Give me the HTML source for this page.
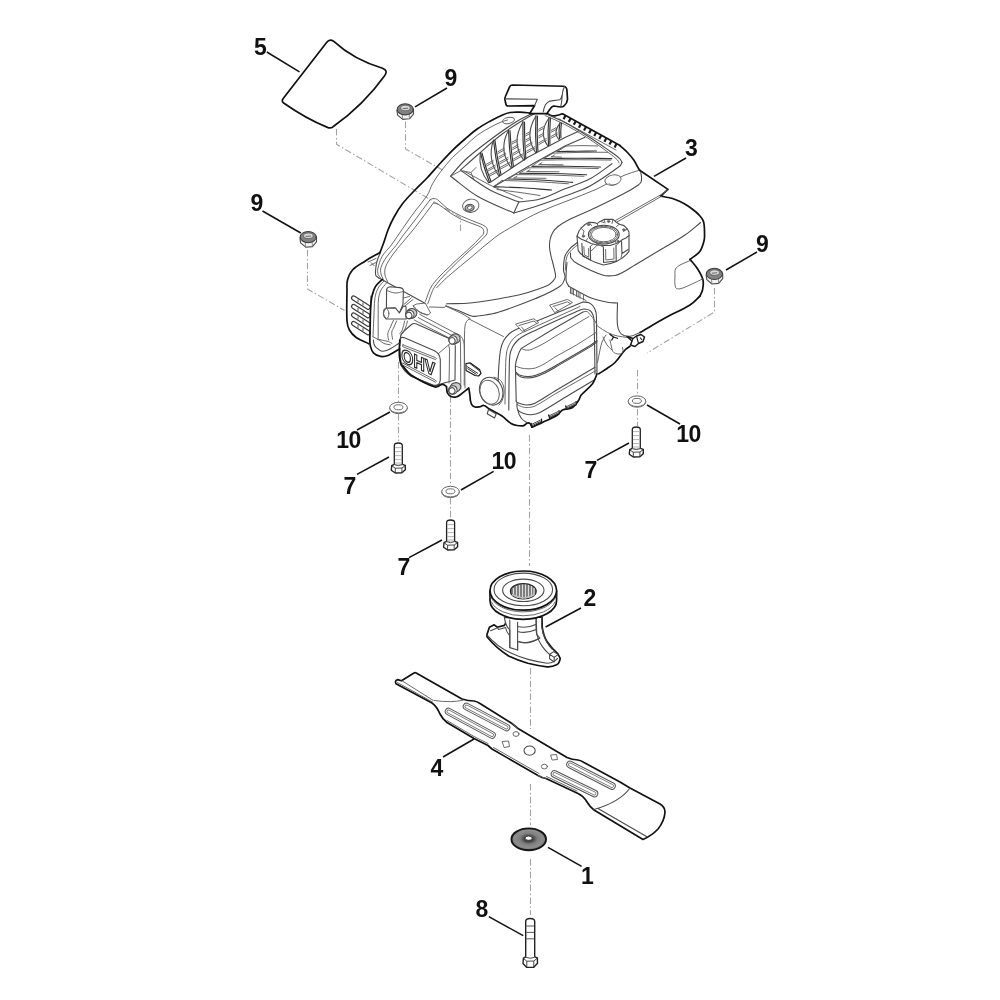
<!DOCTYPE html>
<html lang="en">
<head>
<meta charset="utf-8">
<title>Engine assembly - exploded parts diagram</title>
<style>
html,body{margin:0;padding:0;background:#fff;}
body{width:1000px;height:1000px;overflow:hidden;}
svg{display:block;filter:grayscale(1);}
.k{fill:none;stroke:#111;stroke-width:1.7;stroke-linecap:round;stroke-linejoin:round;}
.kf{fill:#fff;stroke:#111;stroke-width:1.7;stroke-linecap:round;stroke-linejoin:round;}
.m{fill:none;stroke:#4a4a4a;stroke-width:1.1;stroke-linecap:round;stroke-linejoin:round;}
.mf{fill:#fff;stroke:#4a4a4a;stroke-width:1.1;stroke-linecap:round;stroke-linejoin:round;}
.t{fill:none;stroke:#626262;stroke-width:0.95;stroke-linecap:round;stroke-linejoin:round;}
.tf{fill:#fff;stroke:#626262;stroke-width:0.95;stroke-linecap:round;stroke-linejoin:round;}
.fd{fill:none;stroke:#333;stroke-width:1.15;stroke-linecap:round;stroke-linejoin:round;}
.d{fill:none;stroke:#a2a2a2;stroke-width:1.1;stroke-dasharray:6.5 2.4 1.5 2.4;}
.l{fill:none;stroke:#111;stroke-width:1.5;stroke-linecap:butt;}
.n{font-family:"Liberation Sans",Arial,Helvetica,sans-serif;font-weight:700;font-size:23px;fill:#111;}
</style>
</head>
<body>
<svg width="1000" height="1000" viewBox="0 0 1000 1000">
<rect width="1000" height="1000" fill="#fff"/>

<!-- ===== dash-dot assembly lines ===== -->
<g id="axes" class="d">
<path d="M336.500 129V144.300L460.500 217.500V231"/>
<path d="M405.500 121.500V149L442.500 170"/>
<path d="M307.500 250V289L344.500 310.500"/>
<path d="M714.500 288V312L647 353"/>
<path d="M398.500 362V402M398.500 414V441"/>
<path d="M450.500 396V486M450.500 498V519"/>
<path d="M637.500 370V394M637.500 409V426"/>
<path d="M529.500 435V566M530.500 668V729M530.500 784V825M530.500 859V915"/>
</g>

<!-- ENGINE-START -->
<g id="engine">
<path class="k" d="M380 252.5C381.2 249.2 382.6 245.9 383.8 242.5C385.2 238.4 386.4 234.1 388 230C389.7 225.7 391.5 221.5 393.8 217.5C396.4 212.7 399.2 208 402.5 203.8C406.3 198.8 410.7 194.5 415 190C419.1 185.7 423.5 181.8 427.5 177.5C431.8 172.9 435.8 168.1 440 163.5C444.1 159 448.2 154.5 452.5 150.3C456.5 146.4 460.7 142.7 465 139C469.1 135.5 473.1 131.9 477.5 128.8C481.5 125.9 485.7 123.6 490 121.2C494.1 119 498.2 116.9 502.5 115C504.9 113.9 507.4 112.9 510 112.5C513.3 112 516.7 112.1 520 112.2C523.3 112.3 526.7 112.7 530 113"/>
<path class="t" d="M507.5 120C505 120.8 502.4 121.5 500 122.5C496.6 124 493.3 125.7 490 127.5C485.8 129.9 481.4 132.1 477.5 135C473 138.4 469.2 142.5 465 146.2C460.8 150 456.4 153.4 452.5 157.5C448 162.2 443.9 167.3 440 172.5C437.3 176.1 434.7 179.8 432.5 183.8C430.5 187.3 429.7 191.5 427.5 195C423.8 200.8 419.1 205.8 415 211.2C410.7 217 406.6 222.9 402.5 228.8C398.7 234.1 395.3 239.7 391.4 245C388.5 248.9 384.6 252 382.2 256.2C380 260.1 378.8 264.6 377.8 269C377.4 270.8 377.6 272.8 378.2 274.6C378.6 275.8 379.7 276.5 380.5 277.5"/>
<ellipse class="t" cx="508.5" cy="120.5" rx="6" ry="3" transform="rotate(-12 508.5 120.5)"/>
<path class="k" d="M547 113.5C548.7 114.3 550.2 115.4 552 115.8C553.3 116.1 554.7 115.9 556 115.6C558.2 115.2 560.3 114.4 562.5 113.8"/>
<path class="k" d="M562.5 113.8L620 145.6"/>
<path class="k" d="M620 145.6C622.5 147.9 625.2 150 627.5 152.5C629.7 154.9 631.9 157.3 633.8 160C635.7 162.8 637 166.1 638.8 169C639.1 169.6 639.6 170 640 170.5"/>
<path class="k" d="M640 170.5L668 189.4L660.6 196.2"/>
<path class="t" d="M558.8 118.8L616 150"/>
<path d="M565.5 115.6L563.6 119.2" fill="none" stroke="#1a1a1a" stroke-width="2.200"/>
<path d="M570.6 118.4L568.7 122" fill="none" stroke="#1a1a1a" stroke-width="2.200"/>
<path d="M575.7 121.2L573.8 124.8" fill="none" stroke="#1a1a1a" stroke-width="2.200"/>
<path d="M580.8 124.1L578.9 127.7" fill="none" stroke="#1a1a1a" stroke-width="2.200"/>
<path d="M585.9 126.9L584 130.5" fill="none" stroke="#1a1a1a" stroke-width="2.200"/>
<path d="M591 129.7L589.1 133.3" fill="none" stroke="#1a1a1a" stroke-width="2.200"/>
<path d="M596.1 132.5L594.2 136.1" fill="none" stroke="#1a1a1a" stroke-width="2.200"/>
<path d="M601.2 135.3L599.3 138.9" fill="none" stroke="#1a1a1a" stroke-width="2.200"/>
<path d="M606.3 138.2L604.4 141.8" fill="none" stroke="#1a1a1a" stroke-width="2.200"/>
<path d="M611.4 141L609.5 144.6" fill="none" stroke="#1a1a1a" stroke-width="2.200"/>
<path d="M616.5 143.8L614.6 147.4" fill="none" stroke="#1a1a1a" stroke-width="2.200"/>
<path class="t" d="M638.5 170.5C633.7 172.1 628.7 173.3 624 175.4C614.5 179.6 605.5 185.1 596 189.4C586.8 193.5 577.3 196.9 568 200.6C558.7 204.3 549.1 207.6 540 211.8C531.4 215.7 523.2 220.3 515 225C508.2 228.9 501.3 232.7 495 237.4C486.6 243.6 479 250.7 471 257.4C463 264.1 454.8 270.5 447 277.4C443.3 280.6 440.1 284.3 436.6 287.8"/>
<path class="m" d="M640.8 172.6C641.1 174.4 641.6 176.2 641.6 178C641.6 179.3 641.6 180.8 641 182C640.3 183.3 639.2 184.4 638 185.2C633.5 188.3 628.8 191 624 193.6C614.8 198.5 605.4 203.1 596 207.6C586.8 212 577.2 215.6 568 220.2C564.5 222 561.1 224.1 558 226.5C556.1 228 554.3 229.9 553 232C551.5 234.5 550.6 237.2 550 240C549.4 242.6 549.4 245.3 549.6 248C549.8 250.7 550.4 253.4 551 256C551.4 258 552.1 260 552.6 262C553.4 265.3 554.3 268.6 555 272C555.3 273.6 555.9 275.4 555.5 277C555.2 278.5 554.1 279.9 553 281C551.4 282.7 549.7 284.6 547.5 285.5C539.4 289 531 291.7 522.5 294C513.5 296.4 504.2 297.9 495 299.5C486.7 300.9 478.4 302.3 470 303C462.2 303.7 454.4 303.5 446.6 303.8"/>
<path class="m" d="M578 242C575.5 244 572.7 245.7 570.5 248C568.3 250.4 566 252.9 565 256C563.6 260.5 563.5 265.3 563.5 270C563.5 272.5 565.5 275 565 277.5C564.3 280.8 562.7 284.3 560 286.2C552.4 291.6 543.6 295.1 535 298.8C522.7 303.9 510.2 308.4 497.5 312.5C493.5 313.8 489.2 314.4 485 315C480.9 315.6 476.6 316.9 472.5 316.2C468.1 315.6 464.2 312.9 460 311.2C455.4 309.5 450.7 307.8 446 306"/>
<path class="t" d="M579.5 243.5C577 245.5 574.2 247.2 572 249.5C569.9 251.7 567.7 254.1 566.8 257C565.4 261.1 565.8 265.7 565.3 270"/>
<path class="t" d="M430.2 199.6C431.1 199.3 432 198.6 433 198.6C434.5 198.6 436.2 198.7 437.4 199.6C440.9 202 443.5 205.8 447 208.2C451.5 211.3 456.4 213.8 461.4 216.2C467.1 218.9 473.2 220.9 479 223.4C481.2 224.3 483.6 225 485.5 226.5C486.5 227.3 487.2 228.7 487.3 230C487.4 231.7 487.3 233.7 486.2 235C481.7 240.3 476.1 244.6 471 249.4C466.5 253.7 461.8 257.7 457.4 262.2C449.7 270 441.3 277.3 435 286.2C431.3 291.4 430.2 297.9 427.8 303.8"/>
<path class="t" d="M433.4 203C435 203.4 436.8 203.4 438.2 204.2C441.4 206 444 208.6 447 210.6C451.2 213.4 455.3 216.4 459.8 218.6C465.7 221.5 472.1 223.2 478.2 225.8C479.8 226.5 481.4 227.1 482.6 228.3C483.4 229.1 483.7 230.4 483.8 231.5C483.9 232.6 483.7 233.8 483 234.6C478 240.3 472.4 245.4 467 250.6C463.1 254.3 458.8 257.6 455 261.4C447.4 269 439 276 432.6 284.6C429 289.5 427.8 295.8 425.4 301.4"/>
<path class="t" d="M430.2 199.6C425.1 206.4 420.1 213.2 415 220C410.9 225.5 406.6 230.8 402.5 236.2C400.2 239.3 398.3 242.5 396 245.5C393 249.4 389.3 252.9 386.5 257C384.3 260.2 382.2 263.7 381 267.4C380.3 269.5 380.6 271.8 381 274C381.4 276 382.7 277.7 383.5 279.5"/>
<path class="t" d="M433.4 203C427.3 211.2 421.3 219.5 415 227.5C411 232.6 406.6 237.5 402.5 242.5C399.1 246.6 395.5 250.6 392.5 255C389.9 258.8 387.1 262.7 385.5 267C384.6 269.5 384.6 272.4 385 275C385.3 277.3 386.7 279.3 387.5 281.5"/>
<path class="m" d="M378.6 277.8L425.4 303.4"/>
<path class="m" d="M380.2 253C379.1 255.8 377.8 258.4 377 261.2C376.3 263.5 376 265.9 375.8 268.2C375.6 270.6 375.1 273.1 375.8 275.4C376.1 276.6 377.7 277 378.6 277.8"/>
<ellipse class="t" cx="470.8" cy="205.8" rx="8.2" ry="6.6" transform="rotate(-10 470.8 205.8)"/>
<ellipse class="m" cx="469.6" cy="207.8" rx="4.6" ry="3.4" transform="rotate(-10 469.6 207.8)" style="fill:#bbb"/>
<ellipse class="t" cx="469.8" cy="207.6" rx="2.4" ry="1.7" transform="rotate(-10 469.8 207.6)" style="fill:#fff"/>
<ellipse class="tf" cx="613" cy="180" rx="8.2" ry="5" transform="rotate(-12 613 180)"/>
<path class="t" d="M609 183.5C610 184.1 610.9 185.1 612 185.2C613.3 185.4 614.7 184.7 616 184.4"/>
<path class="m" d="M450.6 176.2C455.4 170.8 459.7 164.9 465 160C472.9 152.8 481.5 146.4 490 140C498.1 133.9 506.4 127.9 515 122.5C521.4 118.5 528.3 115.5 535 112"/>
<path class="m" d="M460.6 170C466.2 165 471.8 159.9 477.5 155C485.8 147.8 493.8 140.3 502.5 133.8C510.5 127.8 519.1 122.7 527.5 117.5C530.2 115.8 533.2 114.5 536 113"/>
<path class="m" d="M546 113.8C552.3 116.7 558.9 119.2 565 122.5C573.6 127.1 581.8 132.3 590 137.5C596.8 141.9 603.4 146.6 610 151.2C613.4 153.7 617 155.9 620 158.8C621 159.7 621.3 161.2 622 162.5"/>
<path class="t" d="M545 115.5C551.7 118.5 558.5 121.1 565 124.5C573.6 129.1 581.8 134.2 590 139.5C596.5 143.7 602.8 148.4 609 153C611.9 155.2 614.9 157.4 617.5 160C618.3 160.8 618.5 162 619 163"/>
<path class="m" d="M622 162.5C621.3 163.7 621.1 165.2 620 166C610.3 173.1 600.6 180.2 590 186C582.1 190.3 573.4 192.8 565 196C556.7 199.1 548.4 202.2 540 205C531.3 207.9 522.5 210.3 513.8 213"/>
<path class="m" d="M612 163.8C604.7 168.8 597.8 174.6 590 178.8C582.1 183 573.3 185.4 565 188.8C556.7 192.1 548.7 196.5 540 199C533.1 201 525.8 201 518.8 202"/>
<path class="m" d="M450.6 176.2C459.6 182.9 467.8 190.6 477.5 196.2C489 202.9 501.7 207.4 513.8 213"/>
<path class="m" d="M461 170.6C470.7 177.1 479.8 184.4 490 190C499.1 195 509.2 198 518.8 202"/>
<path class="m" d="M513.8 213L518.8 202"/>
<path class="t" d="M450.6 176.2L461 170.6"/>
<path class="t" d="M463.8 171C474.2 176.5 484.3 182.5 495 187.5C504 191.7 513.3 195 522.5 198.8"/>
<path class="t" d="M461 170.6L471 172.5L476 167.5"/>
<path class="t" d="M471 172.5L474 180"/>
<path class="m" d="M490 182.5L527.5 157.5L565 137.5L578 131.5"/>
<path class="m" d="M494 186.5L535 162.5L565 146L585 137.3"/>
<path class="fd" d="M480.5 152.5C481.8 157.5 482.9 162.6 484.4 167.5C485.9 172.6 487.8 177.5 489.5 182.5"/>
<path class="fd" d="M482 153C483.3 157.8 484.5 162.7 486 167.5C487.5 172.2 489.3 176.7 490.9 181.3"/>
<path class="m" d="M480.3 153.3Q478 169 488.7 182.8"/>
<path class="fd" d="M493.5 140C494.3 145.9 494.9 151.9 495.9 157.8C496.9 163.7 498.3 169.6 499.5 175.5"/>
<path class="fd" d="M495 140.5C495.8 146.2 496.5 152 497.5 157.8C498.5 163.3 499.8 168.8 500.9 174.3"/>
<path class="m" d="M493.3 140.8Q487.1 159.2 498.7 175.8"/>
<path class="fd" d="M508.5 130C508.9 136.2 509.1 142.5 509.6 148.8C510.2 155 511.2 161.2 512 167.5"/>
<path class="fd" d="M510 130.5C510.4 136.6 510.7 142.7 511.2 148.8C511.8 154.6 512.7 160.5 513.4 166.3"/>
<path class="m" d="M508.3 130.8Q498 150.2 511.2 167.8"/>
<path class="fd" d="M523 121.5C523 127.9 522.9 134.3 523.1 140.8C523.4 147.2 524 153.6 524.5 160"/>
<path class="fd" d="M524.5 122C524.6 128.2 524.5 134.5 524.8 140.8C525 146.8 525.5 152.8 525.9 158.8"/>
<path class="m" d="M522.8 122.3Q510.8 142.2 523.7 160.3"/>
<path class="fd" d="M536 115.5C535.9 121.7 535.6 127.8 535.6 134C535.7 140.2 536.2 146.3 536.5 152.5"/>
<path class="fd" d="M537.5 116C537.4 122 537.2 128 537.2 134C537.3 139.8 537.7 145.5 537.9 151.3"/>
<path class="m" d="M535.8 116.3Q524 135.5 535.7 152.8"/>
<path class="fd" d="M549 117.5C548.7 122.2 548.2 126.8 548.1 131.5C548.1 136.2 548.4 140.8 548.5 145.5"/>
<path class="fd" d="M550.5 118C550.2 122.5 549.9 127 549.8 131.5C549.7 135.8 549.9 140 549.9 144.3"/>
<path class="m" d="M548.8 118.3Q538.5 133 547.7 145.8"/>
<path class="fd" d="M560 122.5C559.7 125.2 559.2 128 559.1 130.8C559.1 133.5 559.4 136.2 559.5 139"/>
<path class="fd" d="M561.5 123C561.2 125.6 560.9 128.2 560.8 130.8C560.7 133.1 560.9 135.5 560.9 137.8"/>
<path class="m" d="M559.8 123.3Q552.8 132.2 558.7 139.3"/>
<path class="t" d="M489.5 174.4L497.8 169.8"/>
<path class="t" d="M489.5 176.2L497.8 171.6"/>
<path class="t" d="M487.9 169.3L495.3 165.2"/>
<path class="t" d="M487.9 171.1L495.3 167"/>
<path class="t" d="M486.4 164.2L493.2 160.4"/>
<path class="t" d="M486.4 166L493.2 162.2"/>
<path class="t" d="M500.5 167.3L510.1 162"/>
<path class="t" d="M500.5 169.1L510.1 163.8"/>
<path class="t" d="M499.6 162.1L508 157.5"/>
<path class="t" d="M499.6 163.9L508 159.3"/>
<path class="t" d="M498.8 156.9L505.7 153.1"/>
<path class="t" d="M498.8 158.7L505.7 154.9"/>
<path class="t" d="M497.9 151.7L504.3 148.2"/>
<path class="t" d="M497.9 153.5L504.3 150"/>
<path class="t" d="M513.6 158.9L522.6 154"/>
<path class="t" d="M513.6 160.7L522.6 155.8"/>
<path class="t" d="M513.1 153.4L520.1 149.5"/>
<path class="t" d="M513.1 155.2L520.1 151.3"/>
<path class="t" d="M512.6 147.8L518.1 144.8"/>
<path class="t" d="M512.6 149.6L518.1 146.6"/>
<path class="t" d="M512 142.2L517 139.5"/>
<path class="t" d="M512 144L517 141.3"/>
<path class="t" d="M526.6 151.2L534.8 146.7"/>
<path class="t" d="M526.6 153L534.8 148.5"/>
<path class="t" d="M526.3 145.5L532.2 142.2"/>
<path class="t" d="M526.3 147.3L532.2 144"/>
<path class="t" d="M526.1 139.7L530.5 137.3"/>
<path class="t" d="M526.1 141.5L530.5 139.1"/>
<path class="t" d="M525.9 134L529.8 131.8"/>
<path class="t" d="M525.9 135.8L529.8 133.6"/>
<path class="t" d="M538.8 142.8L546.3 138.6"/>
<path class="t" d="M538.8 144.6L546.3 140.4"/>
<path class="t" d="M538.7 136L543.8 133.2"/>
<path class="t" d="M538.7 137.8L543.8 135"/>
<path class="t" d="M538.6 129.3L543.5 126.6"/>
<path class="t" d="M538.6 131.1L543.5 128.4"/>
<path class="t" d="M551.1 136.4L557.3 133"/>
<path class="t" d="M551.1 138.2L557.3 134.8"/>
<path class="t" d="M551.2 130.4L556 127.7"/>
<path class="t" d="M551.2 132.2L556 129.5"/>
<path class="t" d="M566.3 146C571.5 145.9 576.8 145.6 582 145.6C587.3 145.6 592.5 145.9 597.8 146"/>
<path class="fd" d="M557 151.6C563.7 151.5 570.3 151.3 577 151.2C583.5 151.1 589.9 151.1 596.4 151"/>
<path class="t" d="M553 153.2C562 152.9 571 152.5 580 152.4C589.2 152.2 598.4 152.3 607.6 152.3"/>
<path class="fd" d="M544 158.6C555.3 158.5 566.7 158.2 578 158.2C589.3 158.2 600.5 158.5 611.8 158.6"/>
<path class="t" d="M540.4 160.2C552.3 160 564.1 159.7 576 159.7C587.7 159.7 599.3 160 611 160.1"/>
<path class="fd" d="M532 166.3C543.3 166.3 554.7 166.1 566 166.2C577.5 166.3 589.1 166.7 600.6 167"/>
<path class="t" d="M528.5 167.8C540.3 167.8 552.2 167.7 564 167.8C575.5 167.9 587 168.3 598.5 168.6"/>
<path class="fd" d="M519.4 173.3C530.6 173.4 541.8 173.3 553 173.5C564.2 173.7 575.4 174.3 586.6 174.7"/>
<path class="t" d="M515.2 174.6C526.8 174.7 538.4 174.7 550 175C561.3 175.3 572.7 175.9 584 176.3"/>
<path class="fd" d="M508.2 179C518.8 179.3 529.4 179.4 540 180C550.9 180.6 561.7 181.6 572.6 182.4"/>
<path class="t" d="M502 180.5C513 180.8 524 181 535 181.5C546.1 182.1 557.3 183 568.4 183.8"/>
<path class="fd" d="M493.5 186.6C503 187 512.5 187.2 522 187.8C531.9 188.4 541.7 189.3 551.6 190"/>
<path class="t" d="M497 189.5C504.7 190.5 512.3 191.4 520 192.5C526.7 193.4 533.3 194.5 540 195.5"/>
<path class="t" d="M566.3 146L557 151.6"/>
<path class="t" d="M553 153.2L544 158.6"/>
<path class="t" d="M540.4 160.2L532 166.3"/>
<path class="t" d="M528.5 167.8L519.4 173.3"/>
<path class="t" d="M515.2 174.6L508.2 179"/>
<path class="t" d="M502 180.5L493.5 186.6"/>
<path class="t" d="M551.5 156.8L561.5 157.1"/>
<path class="t" d="M551.5 156.8L554.5 155"/>
<path class="t" d="M539 164.5L563 164.8"/>
<path class="t" d="M539 164.5L542 162.7"/>
<path class="t" d="M527 171.5L559 171.8"/>
<path class="t" d="M527 171.5L530 169.7"/>
<path class="t" d="M514 178L546 178.3"/>
<path class="t" d="M514 178L517 176.2"/>
<path class="kf" d="M512.500 85Q510.600 85 509.600 86.800L505.400 96.500Q504.700 98 505 100L505.800 103.800Q506.200 106 508.500 106L534.600 105.600L529.600 113.700L546.750 113.700L549.900 109.200Q551.500 106.800 553.500 106L560.700 107Q562.800 107 564.300 105.600Q567 103.500 567.500 99.300L567 91.200Q567 87 564 86.250Z"/>
<path class="m" d="M505.800 98.850L537.300 99.300L534.600 105.600M549.900 101.100Q546.500 103 545.400 104.700Q543.800 108 543.200 112M549.900 101.100L559.800 99.750Q561.600 98 562 95M564.500 86.500Q562.800 90 562.500 93L561.600 102L560.700 107"/>
<path class="k" d="M661 196.2C664.8 197 668.7 197.4 672.5 198.5C675.1 199.2 677.6 200.4 680 201.6C682.7 202.9 685.4 204.3 688 206C690.8 207.8 693.4 209.9 696 212C697.4 213.2 698.8 214.6 700 216C701.1 217.2 702.1 218.5 702.8 220C703.4 221.2 703.8 222.6 704 224C704.4 226.6 704.5 229.3 704.5 232C704.5 234.7 704.8 237.4 704.2 240C703.3 243.9 702.4 248 700 251.2C697.5 254.7 693.3 256.7 690 259.4"/>
<path class="k" d="M690 259.4C692.5 262.5 695.4 265.4 697.5 268.8C699.7 272.3 702 275.9 703 280C703.8 283.2 703.1 286.7 702.5 290C702.1 292.1 700.8 294 700 296"/>
<path class="k" d="M700 296C696.7 299 693.8 302.6 690 305C682 310 673.2 313.5 665 318C656.6 322.6 648.3 327.7 640 332.5"/>
<path class="t" d="M668 190L660.4 195L615.6 220.4"/>
<path class="t" d="M661.5 196.3L617 222"/>
<path class="m" d="M700.6 222.5C695.4 226.7 690.5 231.3 685 235C677 240.5 668.3 245 660 250C651.7 255 643.3 260 635 265C630.8 267.5 626.8 270.2 622.5 272.5C620.1 273.8 617.7 275.2 615 275.5C610.9 276 606.5 276.2 602.5 275C593.8 272.3 585.5 268.1 577.5 263.8C575 262.4 572.6 260.4 571 258C570.1 256.6 570.7 254.7 570.5 253"/>
<path class="t" d="M690 260.6C686.7 262.1 683.2 263.2 680 265C678.3 266 676.4 267.2 675.5 269C674.6 270.8 675 273 675 275C675 279.2 674.2 283.6 675.6 287.5C676.1 288.9 678.5 289.1 680 288.8C684.2 287.9 688.1 285.7 692 284C695.7 282.4 699.3 280.5 703 278.8"/>
<path class="m" d="M567 262.5C566.7 265.7 566.3 268.8 566.2 272C566.1 275.1 565.7 278.2 566.2 281.2C566.6 283.1 567.9 284.6 568.8 286.2"/>
<path class="m" d="M568.8 286.2C575.8 290 582.6 294.5 590 297.5C596 299.9 602.4 301.2 608.8 302.5C611.6 303.1 614.6 302.8 617.5 303"/>
<path class="m" d="M617.5 303C617.5 310.3 616.6 317.7 617.5 325C617.9 328.1 618.9 331.6 621.2 333.8C623.5 335.8 627 336.5 630 336.2C633.6 336 636.7 333.8 640 332.5"/>
<path class="mf" d="M577 236L578.200 250.600Q584 259.500 603.400 265Q621 262.500 629 251.400L629 235.400Z"/>
<path class="mf" d="M577 236.200L579 231L581 228.200L585 224.500L589 222.200L594 222.600L597 223.600L600.200 221.400L604.200 219.400L613 219.400L616 222L619.400 224.200L624 225.600L627.400 229L629 232L629 235.400L626 238L622.600 239.400L619.500 242L616.200 243.400L610 245.500L603.400 245.400L597 245L591 243.500L585.800 241L581 239Z"/>
<ellipse class="m" cx="603.8" cy="234.6" rx="15.4" ry="9.4"/>
<ellipse class="t" cx="603.8" cy="234.6" rx="14" ry="8.3"/>
<ellipse class="t" cx="603.8" cy="234.6" rx="12.4" ry="7.2"/>
<path class="m" d="M581.800 243.500L582.600 256L590.600 259.800L590.300 246.500M603.400 247L603.600 262.500L616.200 261L616 245.500M621.500 241.500L622 253.500L628.200 249.500"/>
<path class="t" d="M583.800 246.500L584.400 255L588.800 257.200L588.600 248.500M605.600 249.500L605.800 260L614 259L613.800 248M590.300 246.500L592.500 244.800M591 251L597 245.400M603.400 247L600.500 245.600M616 245.500L619.500 242.400M622 253.500L621 258M581 228.200L584 231L583 235M589 222.200L591.500 225.500M597 223.600L598.500 226.300M604.200 219.400L605 223M613 219.400L612 223.500M619.400 224.200L616.500 226.500M627.400 229L623.500 231.500M600.200 221.400L604 222.500M585.800 241L587.500 238.500M616.200 243.400L615 240.500"/>
<ellipse class="t" cx="583.4" cy="236.2" rx="1.2" ry="1" style="fill:#666"/>
<ellipse class="t" cx="588.6" cy="224.6" rx="1.2" ry="1" style="fill:#666"/>
<ellipse class="t" cx="608.6" cy="221.4" rx="1.2" ry="1" style="fill:#666"/>
<ellipse class="t" cx="623.8" cy="229.8" rx="1.2" ry="1" style="fill:#666"/>
<ellipse class="t" cx="618.2" cy="241.4" rx="1.2" ry="1" style="fill:#666"/>
<ellipse class="t" cx="597.8" cy="244" rx="1.2" ry="1" style="fill:#666"/>
<path class="m" d="M498 396C498.2 388 498.1 380 498.5 372C498.9 364.6 499.3 357.3 500.5 350C501 346.9 502 343.8 503.5 341C505 338.2 507.1 335.7 509.5 333.5C511.4 331.8 513.7 330.6 516 329.5C518.2 328.4 520.7 327.7 523 326.8C543 318.5 563 310.2 583 302"/>
<path class="m" d="M583 302C585 302.3 587.1 302 589 302.8C590.8 303.6 592.4 304.9 593.5 306.5C594.8 308.3 595.5 310.4 596 312.5C596.5 314.9 596.5 317.5 596.5 320C596.8 338 596.8 356 597 374"/>
<path class="t" d="M505 404C505.2 393.3 505.2 382.7 505.5 372C505.7 365.7 505.6 359.3 506.5 353C506.9 349.9 508.1 346.8 509.5 344C510.6 341.8 512.2 339.8 514 338C515.6 336.4 517.5 335.1 519.5 334C521.6 332.8 523.8 332 526 331C544 322.8 562 314.7 580 306.5"/>
<path class="m" d="M508.8 410C508.9 397.3 508.9 384.7 509.2 372C509.3 366.2 509.2 360.3 510 354.5C510.4 351.7 511.5 349 512.8 346.5C513.9 344.5 515.4 342.7 517 341C518.5 339.5 520.2 338.2 522 337C523.7 335.8 525.6 334.9 527.5 334C545.4 325.7 563.3 317.1 581.5 309.5C583 308.9 584.9 309 586.5 309.3C587.9 309.5 589.4 310 590.5 311C591.7 312 592.4 313.5 593 315C593.6 316.6 593.9 318.3 594 320C594.6 338 594.7 356 595 374"/>
<path class="m" d="M515.4 366C515.7 364.3 515.8 362.6 516.2 361C516.6 359.3 517.2 357.6 517.8 356C518.3 354.5 518.8 353 519.5 351.5C520 350.4 520.8 349.4 521.4 348.4"/>
<path class="m" d="M521.4 348.4L555 328L583 312"/>
<path class="t" d="M583 312C584.3 311.8 585.7 311 587 311.5C588.3 312 589.1 313.4 590 314.5C591.8 316.6 593.5 318.7 595 321C595.8 322.2 596.3 323.7 597 325"/>
<path class="t" d="M521.4 348.4C522.6 348.9 523.7 349.8 525 350C527 350.2 529.1 350.3 531 349.6C535.9 347.8 540.4 345.3 545 342.8C548.5 340.9 551.6 338.5 555 336.5C566.3 329.8 577.7 323.2 589 316.5"/>
<path class="t" d="M515.4 366C517.3 366.7 519.1 367.6 521 368C523.3 368.5 525.7 368.8 528 368.8C530.5 368.8 533 368.7 535.4 368C538.8 366.9 541.9 365.2 545 363.5C548.5 361.6 551.6 359 555 357C562.1 352.8 569.5 349.2 576.5 345C583.1 341 589.5 336.7 596 332.5"/>
<path class="m" d="M515.4 372C517.3 373.2 518.9 374.8 521 375.6C523.2 376.4 525.6 376.6 528 376.6C530.4 376.6 532.7 376.2 535 375.5C538.4 374.5 541.8 373 545 371.5C548.4 369.9 551.7 367.9 555 366C567 359.1 579.1 352.2 591 345C593.1 343.7 595 342 597 340.5"/>
<path class="m" d="M515.6 373.4C517.4 374.6 519 376.2 521 377C523.2 377.8 525.6 378 528 378C530.4 378 532.7 377.6 535 376.9C538.4 375.9 541.8 374.4 545 372.9C548.4 371.3 551.7 369.3 555 367.4C567 360.5 579.1 353.6 591 346.4C593.1 345.1 595 343.4 597 341.9"/>
<path class="m" d="M515.4 366L516.2 401"/>
<path class="m" d="M516.2 401C516.5 401.5 516.5 402.3 517 402.5C519.9 403.7 522.9 404.9 526 405C529.1 405.1 532.2 404.5 535 403.2C542 399.8 548.3 395 555 391C568.3 383 581.7 375.2 595 367.3"/>
<path class="t" d="M517 404.5C518 405 518.9 405.6 520 406C522 406.7 523.9 407.6 526 407.6C529 407.6 532.2 407.3 535 406C542 402.7 548.3 397.9 555 394C568.8 386 582.7 378.2 596.5 370.3"/>
<path class="m" d="M517 403C517.2 405.3 516.4 408 517.8 410C519.1 412 521.8 412.7 524 413.5C526.2 414.3 528.6 414.9 531 414.8C534.1 414.6 537.3 413.9 540 412.5C550 407.3 559.3 400.8 569 395C577.7 389.8 586.3 384.7 595 379.5"/>
<path class="m" d="M517.8 410C518.2 411.5 518.6 413.1 519.2 414.5C520 416.1 520.8 417.7 522 419C523.1 420.2 524.6 421.1 526 422C526.9 422.6 528 423 529 423.5"/>
<path class="tf" d="M516 324L533.750 318.750L538.750 322.500L522.500 331.250Z"/>
<path class="t" d="M519 325.5L534 321L537 323.5"/>
<path class="t" d="M521.5 327L525 331"/>
<path class="tf" d="M550 305L567.500 299.400L572.500 302.500L555 312.500Z"/>
<path class="t" d="M553 306.5L567.5 301.8L570.5 303.8"/>
<path class="t" d="M555 307.8L558.5 311.5"/>
<path class="k" d="M469 389C469.3 391.3 469.7 393.7 470 396C470.2 397.7 470.1 399.4 470.5 401C470.8 402.4 471.1 403.9 472 405C472.7 406 473.8 406.7 475 407C476.5 407.4 478 407 479.5 406.8C481 406.5 482.5 405.2 484 405.5C485.8 405.8 486.9 407.6 488.5 408.5C492.9 411.1 497.7 413.1 502 416C505.2 418.2 507.7 421.4 511 423.5C512.8 424.6 514.9 425.1 517 425.5C519 425.9 521 426.2 523 425.8C525.2 425.3 526.8 422.4 529 422.8C530.8 423 531 425.8 532 427.2"/>
<path class="k" d="M532 427.2C535.5 425.7 539 424.2 542.5 422.5C547.5 420.1 552.8 418 557.5 415C559.5 413.8 560.4 411.1 562.5 410C565.6 408.5 569.6 409.3 572.5 407.5C575.3 405.8 576.9 402.7 578.8 400C579.8 398.5 580 396.4 581.2 395C584.7 391 589.3 388 592.5 383.8C594.6 380.9 595.5 377.2 597 374"/>
<path d="M531 423l1.200 3.800l9.500 -4.600l-0.300 -3.600" fill="#fff" stroke="#1a1a1a" stroke-width="1.300" stroke-linejoin="round"/>
<path d="M531.6 424.4l9 -4.400M531.9 425.7l8.800 -4.300" fill="none" stroke="#333" stroke-width="0.900"/>
<path d="M548.5 414.5l1.200 3.800l9.500 -4.600l-0.300 -3.600" fill="#fff" stroke="#1a1a1a" stroke-width="1.300" stroke-linejoin="round"/>
<path d="M549.1 415.9l9 -4.400M549.4 417.2l8.800 -4.300" fill="none" stroke="#333" stroke-width="0.900"/>
<path d="M565.5 405.5l1.200 3.800l9.500 -4.600l-0.300 -3.600" fill="#fff" stroke="#1a1a1a" stroke-width="1.300" stroke-linejoin="round"/>
<path d="M566.1 406.9l9 -4.400M566.4 408.2l8.800 -4.300" fill="none" stroke="#333" stroke-width="0.900"/>
<path class="t" d="M469 319L503.5 336.5"/>
<path class="t" d="M469 319C468.2 319.8 467.1 320.5 466.5 321.5C465.7 322.9 465.2 324.4 465 326C464.6 329 464.5 332 464.5 335C464.3 351.7 464.3 368.3 464.2 385"/>
<path class="t" d="M470 318.5L463 314.2L446.2 306.2"/>
<path class="t" d="M429.4 307L444.6 307.4L446.4 305"/>
<path class="tf" d="M425.400 303.400L430.600 313L428.200 314.800L421 313.200L416 309.500L413 305.800L416.200 304.200Z"/>
<path class="t" d="M413 305.8C414.1 306.8 415.1 307.8 416.2 308.8C417.1 309.7 417.9 310.8 419 311.5C421.5 313 424.3 314 427 315.2"/>
<ellipse class="mf" cx="491.2" cy="391.2" rx="11.4" ry="14.2" transform="rotate(-20 491.2 391.2)"/>
<ellipse class="t" cx="489.6" cy="392.2" rx="9.3" ry="12.3" transform="rotate(-20 489.6 392.2)"/>
<path class="t" d="M494 377.2C495.8 378 498 378.2 499.5 379.5C501.2 380.9 502.5 382.9 503.2 385C504 387.5 504.2 390.3 504 393C503.8 395.7 503.1 398.5 502 401C501.4 402.5 500 403.7 499 405"/>
<path class="mf" d="M488.500 409.500L487.200 413.800L494.500 418L496.200 414Z"/>
<path d="M466 363.500L470 362.800L479.500 369.500L481 373.500L478.500 376L475 375.500L466 370.500Z" fill="#fff" stroke="#1a1a1a" stroke-width="1.200" stroke-linejoin="round"/>
<path d="M467 366.500L478 373.500M467.500 368.500L476.500 374.500M470 363.500L479.500 371" fill="none" stroke="#333" stroke-width="1"/>
<path class="t" d="M419.8 314.4L455 333"/>
<path class="t" d="M418.2 317.6L452 335.5"/>
<path class="t" d="M414.2 320L450 338.5"/>
<path class="t" d="M455 333C456.5 333.7 458.2 334 459.5 335C460.7 335.9 461.8 337.1 462.5 338.5C463.5 340.5 464.1 342.8 464.2 345C464.9 359.3 464.7 373.7 465 388"/>
<path class="t" d="M457.5 337C458.3 338 459.6 338.8 460 340C460.6 341.9 460.5 344 460.5 346C460.7 360.3 460.7 374.7 460.8 389"/>
<path class="mf" d="M400.600 336.200Q401 334 403.500 331.500L411.500 324.500Q413.500 322.800 416.500 324L449 338.500Q455.500 341.500 455.300 347L455 380L440.500 384L435 386.300L411.250 376.250Q402.500 369.500 401 364L399.400 347.500Z"/>
<path class="t" d="M438.5 353.5L448.5 345L453.5 341"/>
<path class="t" d="M448.5 345C448.8 346.3 449.5 347.6 449.5 349C449.6 360.3 449.2 371.7 449 383"/>
<path class="m" d="M400.400 338.500Q401.500 336.600 404.500 337.800L434.500 350.800Q439.800 353.600 440.300 359.500L440.300 380Q439.500 386.500 433.500 385.200L411.250 376.250Q402.500 370.500 401 364L399.400 347.500Q399.400 341 400.400 338.500Z"/>
<path class="t" d="M403 344.800L435.500 357.600Q437.300 358.800 435.500 359.600L402.800 346.700Q401.800 345.600 403 344.800Z"/>
<path class="t" d="M403 363.200L435.500 380.200Q437.300 381.600 435.500 382.200L402.800 365.100Q401.800 364 403 363.200Z"/>
<text transform="matrix(0.82 0.37 0 1 401.300 361.200)" font-family="&quot;Liberation Sans&quot;,Arial,sans-serif" font-weight="700" font-size="19" fill="#fff" stroke="#2c2c2c" stroke-width="1.300" x="0" y="0">OHV</text>
<path class="k" d="M399.8 340C399.7 345.3 399.1 350.7 399.4 356C399.6 359.1 400.2 362.1 401.2 365C401.5 365.7 402.5 365.9 403 366.4C405.7 369.2 407.7 372.9 411 375C418.5 379.8 426.4 384.4 435 387C437.5 387.8 439.9 384.5 442.5 384.4C444 384.3 445.2 385.8 446.5 386.5"/>
<path class="k" d="M446.5 387C446.8 389 446.6 391.2 447.5 393C448.2 394.5 449.5 395.8 451 396.5C452.5 397.2 454.3 397.3 456 397C457.5 396.8 458.8 395.9 460 395C463.1 392.8 465.8 390.3 468.8 388"/>
<ellipse class="mf" cx="454.8" cy="338.8" rx="5.4" ry="4.8" transform="rotate(-20 454.8 338.8)" style="fill:#ccc"/>
<ellipse class="mf" cx="453" cy="340" rx="4.2" ry="4.2" transform="rotate(-20 453 340)"/>
<ellipse class="mf" cx="452.1" cy="340.8" rx="3" ry="3.2" transform="rotate(-20 452.1 340.8)"/>
<ellipse class="mf" cx="455.5" cy="387.3" rx="5.4" ry="4.6" transform="rotate(-20 455.5 387.3)" style="fill:#ccc"/>
<ellipse class="mf" cx="452.8" cy="390" rx="4.3" ry="4.3" transform="rotate(-20 452.8 390)"/>
<ellipse class="mf" cx="452" cy="390.8" rx="3" ry="3.1" transform="rotate(-20 452 390.8)"/>
<path class="k" d="M380 252.5C375 255.4 369.9 258.1 365 261.2C360.7 264 356 266.3 352.5 270C350 272.7 348.5 276.4 347.5 280C346.6 283.2 347 286.7 347 290C346.9 300.3 346.4 310.7 347 321C347.2 324.1 347.9 327.3 349.4 330C351.1 333 353.5 335.5 356.2 337.5C360 340.2 364.6 341.7 368.8 343.8"/>
<path class="t" d="M368 262L376 258.5"/>
<path class="t" d="M370 265.5L377 262"/>
<path class="t" d="M371 262.5L374.5 266"/>
<path d="M353.600 298L368.200 307.2" fill="none" stroke="#3a3a3a" stroke-width="5.200" stroke-linecap="round"/>
<path d="M353.600 298L368.200 307.2" fill="none" stroke="#fff" stroke-width="2.900" stroke-linecap="round"/>
<path d="M358 299.4V302.4M363 302.5V305.5" fill="none" stroke="#555" stroke-width="1"/>
<path d="M353.600 306.5L368.200 315.7" fill="none" stroke="#3a3a3a" stroke-width="5.200" stroke-linecap="round"/>
<path d="M353.600 306.5L368.200 315.7" fill="none" stroke="#fff" stroke-width="2.900" stroke-linecap="round"/>
<path d="M358 307.9V310.9M363 311V314" fill="none" stroke="#555" stroke-width="1"/>
<path d="M353.600 315L368.200 324.2" fill="none" stroke="#3a3a3a" stroke-width="5.200" stroke-linecap="round"/>
<path d="M353.600 315L368.200 324.2" fill="none" stroke="#fff" stroke-width="2.900" stroke-linecap="round"/>
<path d="M358 316.4V319.4M363 319.5V322.5" fill="none" stroke="#555" stroke-width="1"/>
<path d="M353.600 323.5L368.200 332.7" fill="none" stroke="#3a3a3a" stroke-width="5.200" stroke-linecap="round"/>
<path d="M353.600 323.5L368.200 332.7" fill="none" stroke="#fff" stroke-width="2.900" stroke-linecap="round"/>
<path d="M358 324.9V327.9M363 328V331" fill="none" stroke="#555" stroke-width="1"/>
<path class="t" d="M370.8 296L370 340"/>
<path class="k" d="M382.2 279.4C379.9 281.8 377.1 283.8 375.4 286.6C373.5 289.8 372.6 293.4 371.8 297C371 300.9 370.8 305 370.6 309C370.3 314.3 370.3 319.7 370.2 325C370.1 330 369.7 335 369.8 340C369.8 342.1 369.9 344.3 370.5 346.4C371.1 348.7 371.7 351.2 373.4 352.8C375.3 354.7 377.9 356 380.6 356.4C383.3 356.8 386.1 356.2 388.6 355.2C392.6 353.6 396.1 350.9 399.8 348.8"/>
<path class="t" d="M384 281C382.1 283.3 379.7 285.3 378.2 288C376.6 290.9 375.6 294.2 375 297.5C374.3 301.3 374.4 305.2 374.2 309C373.9 314.3 373.7 319.7 373.5 325C373.3 328.9 373.2 332.9 373 336.8"/>
<path class="t" d="M386.5 283C384.7 285.3 382.4 287.4 381 290C379.7 292.5 379 295.2 378.6 298C378.1 301.6 378.2 305.3 378.2 309C378.1 318.8 378.2 328.6 378.2 338.4"/>
<path class="m" d="M373.4 340C373.6 341.3 373.6 342.7 374 344C374.4 345.2 374.9 346.4 375.8 347.2C377.7 348.9 379.7 350.9 382.2 351.2C385 351.5 387.7 350 390.2 348.8C393.3 347.3 396.1 345.1 399 343.2"/>
<path class="t" d="M373 336.8C375 337.9 377.1 338.8 379 340C380.7 341.1 382.1 342.7 384 343.5C385.9 344.3 388.1 344.4 390.2 344.8"/>
<path class="t" d="M377.4 339.2C381.1 340 384.9 340.5 388.6 341.6C389.8 342 390.9 342.9 392 343.5"/>
<path class="mf" d="M386.600 290Q386.800 287.200 390 286.800L400 287.600Q403.600 288.400 403.400 291L403 304.200L399.400 313L395 307.800L386.400 308.200Z"/>
<path class="t" d="M386.8 290.5C389.5 291.3 392.1 292.8 395 293C397.8 293.2 400.5 292 403.3 291.5"/>
<path class="mf" d="M386.200 308.200L395.500 308L399.400 313L403.400 306L406 306.500L406.200 319L386.200 319Q383.600 316.500 383.400 313.500Q383.800 309.500 386.200 308.200Z"/>
<ellipse class="t" cx="386.2" cy="313.4" rx="2.7" ry="5.1" transform="rotate(-5 386.2 313.4)"/>
<path class="t" d="M404.2 304.2L411.4 297.8"/>
<path class="t" d="M404.8 306L413 299.5"/>
<path class="t" d="M403.2 298L409.5 296.5"/>
<path class="t" d="M393.4 320.4C392.4 322.6 391.4 324.8 390.5 327C389.6 329.2 388.1 331.2 387.8 333.6C387.5 335.7 388.3 337.9 388.6 340"/>
<path class="t" d="M396.6 321C395.7 323 394.9 325 394 327C393.3 328.7 392 330.2 391.8 332C391.5 334.4 392.3 336.8 392.6 339.2"/>
<path class="t" d="M404.6 321C403.8 324.1 403.4 327.4 402.2 330.4C401.7 331.6 400.6 332.5 399.8 333.6"/>
<path class="t" d="M407.5 321C406.8 323.3 406.4 325.7 405.5 328C404.7 329.9 403.5 331.7 402.5 333.5"/>
<path class="t" d="M570 292.5L586 300.5"/>
<path class="t" d="M570.5 287.8L570.5 293.4"/>
<path class="t" d="M573.5 289.3L573.5 294.9"/>
<path class="t" d="M576.5 290.8L576.5 296.4"/>
<path class="t" d="M580 292.6L580 298.2"/>
<path class="t" d="M583.5 294.4L583.5 300"/>
<path class="t" d="M572 288.5L572 294"/>
<path class="t" d="M578.2 291.7L578.2 297.2"/>
<path class="k" d="M598.8 373.8C601.5 372 604.3 370.4 607 368.5C609.7 366.6 612.7 364.9 615 362.5C618.7 358.7 621.4 353.9 625 350C626.4 348.5 628.3 347.5 630 346.2"/>
<path class="t" d="M597.5 326C600.8 328.2 603.9 330.7 607.5 332.5C610.7 334.1 614.1 335.2 617.5 336C620.9 336.8 624.5 337 628 337.5"/>
<path class="t" d="M606 335C604.7 337.3 603 339.5 602 342C601 344.6 600.6 347.3 600 350C599.1 354.2 598.3 358.3 597.5 362.5"/>
<path class="t" d="M610 340C610.5 342.3 610.8 344.7 611.5 347C612.1 348.9 612.1 351.4 613.8 352.5C615.7 353.9 618.6 354.3 621 353.8C622.2 353.5 622.7 351.7 623 350.5C623.2 349.5 622.7 348.5 622.5 347.5"/>
<path class="t" d="M603 337C604.3 339.7 605.3 342.5 607 345C608.3 346.9 610.3 348.3 612 350"/>
<path d="M627 336.500L633 338.500L636.500 336L641 334.500L644.500 337L643 341.500L638.500 343.500L635 346.500L630.500 345L632 341Z" fill="#fff" stroke="#1a1a1a" stroke-width="1.500" stroke-linejoin="round"/>
<path d="M633 338.500L632 341M636.500 336L638.500 343.500M640 337.500L642 340" fill="none" stroke="#1a1a1a" stroke-width="1.100"/>
<path d="M609.500 334L613.500 337L611.500 340.500M613.500 337L618 338.500" fill="none" stroke="#1a1a1a" stroke-width="1.300"/>
<ellipse class="mf" cx="411.6" cy="313.4" rx="5.4" ry="4.8" transform="rotate(-20 411.6 313.4)" style="fill:#ccc"/>
<ellipse class="mf" cx="409.8" cy="314.6" rx="4.2" ry="4.2" transform="rotate(-20 409.8 314.6)"/>
<ellipse class="mf" cx="408.9" cy="315.4" rx="3" ry="3.2" transform="rotate(-20 408.9 315.4)"/>
</g>
<!-- ENGINE-END -->

<!-- PARTS-START -->
<defs>
<g id="nut">
<path d="M-8.300 -1.500L-7.600 3.500L-2.500 7.800L4.200 7.200L8.300 2.500L8.300 -2.500Z" fill="#f4f4f4" stroke="#4a4a4a" stroke-width="1.100" stroke-linejoin="round"/>
<path d="M-2.500 7.800L-3 2.200M4.200 7.200L4 1.800" fill="none" stroke="#777" stroke-width="0.800"/>
<ellipse cx="0" cy="-2.300" rx="8" ry="5.600" fill="#828282" stroke="#3c3c3c" stroke-width="1.100"/>
<ellipse cx="0.200" cy="-3.600" rx="4.800" ry="2.700" fill="#d9d9d9" stroke="#555" stroke-width="0.700"/>
<path d="M-2.500 -3L2.800 -3.400" fill="none" stroke="#666" stroke-width="1"/>
</g>
<g id="washer">
<ellipse cx="0" cy="0.700" rx="8.800" ry="5.300" fill="#fff" stroke="#6a6a6a" stroke-width="1"/>
<ellipse cx="0" cy="0" rx="8.800" ry="5.300" fill="#fff" stroke="#6a6a6a" stroke-width="1"/>
<ellipse cx="-0.100" cy="-0.300" rx="4.500" ry="2.500" fill="#fff" stroke="#6a6a6a" stroke-width="1"/>
</g>
<g id="bolt7">
<path d="M-4 22V2.600Q-4 0 0 0Q4 0 4 2.600V22Z" fill="#fff" stroke="#222" stroke-width="1.300" stroke-linejoin="round"/>
<path d="M-3.400 4.600H3.400M-3.400 8.600H3.400M-3.400 12.600H3.400M-3.400 16.600H3.400M-3.400 20H3.400" fill="none" stroke="#aaa" stroke-width="0.900"/>
<path d="M-4 21.300L-6.600 22.600L-7 27.200L-3 30L3.600 29.800L7 26.800L7 22.400L4 21.300" fill="#fff" stroke="#222" stroke-width="1.400" stroke-linejoin="round"/>
<path d="M-6.600 22.800L-3 25.200L3.600 25L7 22.600M-3 25.200V29.800M3.600 25V29.600" fill="none" stroke="#333" stroke-width="0.900"/>
<path d="M-4 21.600Q0 23.600 4 21.600" fill="none" stroke="#333" stroke-width="0.900"/>
</g>
</defs>

<!-- lock nuts (9) -->
<use href="#nut" x="405.200" y="111.600"/>
<use href="#nut" x="308.200" y="239.400"/>
<use href="#nut" x="714.400" y="276.200"/>

<!-- washers (10) -->
<use href="#washer" x="398.500" y="407.600"/>
<use href="#washer" x="450.500" y="491.600"/>
<use href="#washer" x="637" y="401.200"/>

<!-- screws (7) -->
<use href="#bolt7" x="398.300" y="443"/>
<use href="#bolt7" x="450.600" y="520"/>
<use href="#bolt7" x="636.300" y="427"/>

<!-- label sheet (5) -->
<path class="k" d="M283.200 98.600L326.600 42.400Q329.500 38.800 333.500 41.200Q354 60 382.500 68.200Q388.500 70.600 384.800 75.400Q364 104.500 333 126.800Q330.500 128.800 327.500 127.400Q306 118.600 284 103.200Q281 101.200 283.200 98.600Z" fill="#fff"/>

<!-- blade adapter (2) -->
<g id="adapter">
<path class="kf" d="M487 634.400L489.400 627.200L494.200 624.800L497.200 627.200L504.400 625.400L508 619L542 617L542.200 627.200Q543.500 636 547 641.600Q552 649 557.800 653.600L560.200 658.400Q559.500 663.500 556.600 664.800Q552 667.200 547 666.800Q537 665.500 527.800 663.200Q517 660 508.600 656Q496 648 487 636.800Z"/>
<path class="m" d="M487.600 635.600Q497 646.500 509.800 652.400Q519 656.800 529 659.600Q538 662 547 663.200Q551.500 663.200 554.200 661.400L557.500 658.500"/>
<path class="m" d="M490.600 630.800L496.500 628.200M497.200 627.200L498.500 629.500L505.500 627.500Q506.500 632 509.800 636"/>
<path class="mf" d="M549.600 654.200L553.800 651.600L558 654.600L554.200 657.400ZM549.600 654.200V658.800L554.200 662V657.400"/>
<path class="mf" d="M504.400 617.600Q505 623 507.400 627.200L509.800 630V647.600L517.600 650V641.600Q527.800 645.500 539.800 638L536.800 634.400L536.200 618.800Z"/>
<path class="m" d="M509.800 620V647.600M517.600 622.400V650M517.600 626.500Q526.600 628.800 535.800 624.500M517.600 631.500Q526 634 536.300 629.500M518.800 641.600Q528 644.500 539.800 638"/>
<path class="m" d="M536.200 618.800Q535.500 628 536.800 634.400Q538.500 641.500 542.200 646.400Q545.500 651 549.400 654.400M541.600 617.600Q541 626 543 633Q546 643 552 649"/>
<path class="kf" d="M490 591V600.400A33.300 19 0 0 0 556.600 600.400V591Z"/>
<path class="t" d="M490.300 595.400A33.300 19 0 0 0 556.300 595.400M491.500 602A32.500 17.500 0 0 0 555 602"/>
<ellipse class="kf" cx="523.300" cy="590.600" rx="33.300" ry="19.600"/>
<ellipse class="m" cx="523.300" cy="589.400" rx="29.300" ry="16.300"/>
<ellipse class="m" cx="523.300" cy="590.300" rx="20.700" ry="11.200"/>
<ellipse cx="523.300" cy="591.200" rx="12.900" ry="7.700" fill="#6e6e6e" stroke="#222" stroke-width="1.200"/>
<path d="M513.500 588V595M516.500 586V597M519.500 585V598M522.500 584.500V598.500M525.500 584.500V598.500M528.500 585V598M531.500 586V597M534 588V595" fill="none" stroke="#dcdcdc" stroke-width="1.300"/>
<path d="M512 594.500Q523 601.500 534.500 594.500" fill="none" stroke="#bbb" stroke-width="1.600"/>
</g>

<!-- blade (4) -->
<g id="blade">
<path class="kf" d="M395.500 682.200Q395.200 680.300 397.500 679.600L401.500 680.800L414 673Q415 672.300 416.200 673L462 699Q468 701 474 701Q477 701.500 480 703.500L512 723.500L518 728.500L567 757.500Q572 759.800 578 760Q581 760.500 584 762.500L620 782L630 788L660 804Q665 807 665 812Q664.500 821 658 829Q652 835.500 643 839.500L594 810Q590 807 587 802Q583.500 796 578 793.500L546 778.500L542 777.500L538 775.500L492 749L488 745.500L474 738.500L447 722.500Q442.500 719 440 714Q436.500 706 432 703L396 683.800Z"/>
<path class="t" d="M402 680.800L433 700.300M397.500 682.600L432.500 702"/>
<path class="t" d="M434 700.500Q452 703 463 700.200M447 720.500L474 736.500L488 743.500M493.500 747.500L539 773.500M546.500 776.500L577 791"/>
<path class="m" d="M630 788Q620 802 594 809.500M598 808.500L646.500 836.500"/>
<path class="t" d="M512 723.500L518 728.500M538 775.500L546 778.500"/>
<g fill="none" stroke-linecap="round">
<path d="M466.500 706.500L506.500 727.500M448.500 711.500L492 735M570 764.500L612 786M554.500 774L594.500 793.500" stroke="#555" stroke-width="7.600"/>
<path d="M466.500 706.500L506.500 727.500M448.500 711.500L492 735M570 764.500L612 786M554.500 774L594.500 793.500" stroke="#fff" stroke-width="5.600"/>
<path d="M466.500 706.500L506.500 727.500M448.500 711.500L492 735M570 764.500L612 786M554.500 774L594.500 793.500" stroke="#777" stroke-width="3.800"/>
<path d="M466.500 706.500L506.500 727.500M448.500 711.500L492 735M570 764.500L612 786M554.500 774L594.500 793.500" stroke="#fff" stroke-width="2.100"/>
</g>
<ellipse class="m" cx="529.600" cy="750.600" rx="5.600" ry="4.600"/>
<ellipse class="t" cx="516" cy="734" rx="3" ry="2.400"/>
<ellipse class="t" cx="544.400" cy="766.600" rx="3" ry="2.400"/>
<path class="t" d="M502.500 741.500L508.500 741L509.500 746.500L504.500 747.500Z"/>
<path class="t" d="M551 755L556.500 754.500L557.500 759.500L552.500 760Z"/>
</g>

<!-- cup washer (1) -->
<g id="cupwasher">
<radialGradient id="cwg" cx="0.5" cy="0.48" r="0.5"><stop offset="0" stop-color="#2e2e2e"/><stop offset="0.22" stop-color="#3c3c3c"/><stop offset="0.5" stop-color="#7e7e7e"/><stop offset="0.8" stop-color="#8e8e8e"/><stop offset="1" stop-color="#767676"/></radialGradient>
<ellipse cx="528.750" cy="839.300" rx="17.300" ry="10.900" fill="url(#cwg)" stroke="#141414" stroke-width="1.900"/>
<ellipse cx="528.600" cy="838.200" rx="3.500" ry="2.100" fill="#fff" stroke="#2a2a2a" stroke-width="0.800"/>
</g>

<!-- blade bolt (8) -->
<g id="bolt8">
<path d="M525.700 958V921.500Q525.700 918.500 530.200 918.500Q534.700 918.500 534.700 921.500V958Z" fill="#fff" stroke="#222" stroke-width="1.400" stroke-linejoin="round"/>
<path d="M526.300 926H534.100M526.300 932.400H534.100M526.300 938.800H534.100" fill="none" stroke="#444" stroke-width="0.900"/>
<path d="M525.700 956.800L523.400 958.200L523 963.500L526.800 967.400L533.800 967.200L537.500 963.200L537.400 958L534.700 956.800" fill="#fff" stroke="#222" stroke-width="1.400" stroke-linejoin="round"/>
<path d="M523.400 958.400L526.800 961.200L533.800 961L537.400 958.200M526.800 961.200V967.200M533.800 961V967" fill="none" stroke="#333" stroke-width="0.900"/>
<path d="M525.700 957.200Q530.200 959.400 534.700 957.200" fill="none" stroke="#333" stroke-width="0.900"/>
</g>
<!-- PARTS-END -->

<!-- ===== leader lines ===== -->
<g id="leaders" class="l">
<path d="M266.800 52L299.500 71.800"/>
<path d="M447 88L415 106.800"/>
<path d="M262.500 211L300.800 233"/>
<path d="M686 158L654 176.400"/>
<path d="M757 252L726 270"/>
<path d="M357 430L390 412"/>
<path d="M357 474.400L389 457"/>
<path d="M493.600 471.400L461 490"/>
<path d="M409 557.600L442 540"/>
<path d="M680 424L647 405"/>
<path d="M597 460.400L629 443"/>
<path d="M581 608L545.600 627"/>
<path d="M443 757L474 739"/>
<path d="M581.600 866.400L548 847.400"/>
<path d="M488.800 916.700L523.200 935.600"/>
</g>

<!-- ===== part numbers ===== -->
<g id="numbers" class="n">
<text x="254" y="54.500">5</text>
<text x="444.500" y="86">9</text>
<text x="250.500" y="210.500">9</text>
<text x="685" y="156">3</text>
<text x="756" y="251.500">9</text>
<text x="336.300" y="447.800" letter-spacing="-0.700">10</text>
<text x="343.500" y="494.400">7</text>
<text x="491.600" y="469" letter-spacing="-0.700">10</text>
<text x="397.500" y="575">7</text>
<text x="676.300" y="441.700" letter-spacing="-0.700">10</text>
<text x="584.500" y="478.400">7</text>
<text x="583.500" y="606.400">2</text>
<text x="430.500" y="776.400">4</text>
<text x="581" y="884.400">1</text>
<text x="475.500" y="917.200">8</text>
</g>
</svg>
</body>
</html>
